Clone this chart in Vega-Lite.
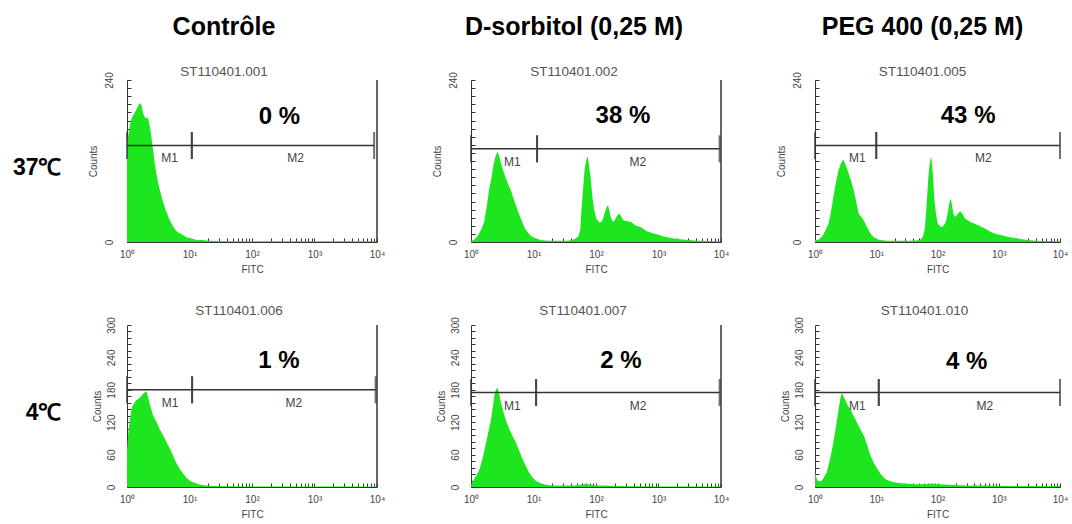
{
"$schema":"https://vega.github.io/schema/vega-lite/v6.json",
"padding":{"left":0,"top":15,"right":0,"bottom":0},
"spacing":30,
"data":{"values":[
{"k":"h","p":"a","x":1,"y":150},{"k":"h","p":"a","x":1.05,"y":158},{"k":"h","p":"a","x":1.1,"y":170},{"k":"h","p":"a","x":1.15,"y":178},{"k":"h","p":"a","x":1.2,"y":185},{"k":"h","p":"a","x":1.3,"y":190},{"k":"h","p":"a","x":1.4,"y":196},{"k":"h","p":"a","x":1.5,"y":201},{"k":"h","p":"a","x":1.6,"y":206},{"k":"h","p":"a","x":1.7,"y":203},{"k":"h","p":"a","x":1.8,"y":192},{"k":"h","p":"a","x":1.9,"y":186},{"k":"h","p":"a","x":2.0,"y":183},{"k":"h","p":"a","x":2.1,"y":185},{"k":"h","p":"a","x":2.2,"y":181},{"k":"h","p":"a","x":2.35,"y":168},{"k":"h","p":"a","x":2.5,"y":150},{"k":"h","p":"a","x":2.65,"y":132},{"k":"h","p":"a","x":2.8,"y":115},{"k":"h","p":"a","x":3.0,"y":98},{"k":"h","p":"a","x":3.2,"y":85},{"k":"h","p":"a","x":3.45,"y":73},{"k":"h","p":"a","x":3.7,"y":62},{"k":"h","p":"a","x":4.0,"y":52},{"k":"h","p":"a","x":4.3,"y":44},{"k":"h","p":"a","x":4.65,"y":36},{"k":"h","p":"a","x":5.0,"y":30},{"k":"h","p":"a","x":5.4,"y":24},{"k":"h","p":"a","x":5.9,"y":19},{"k":"h","p":"a","x":6.4,"y":15},{"k":"h","p":"a","x":7.0,"y":13},{"k":"h","p":"a","x":7.9,"y":10},{"k":"h","p":"a","x":9.0,"y":7},{"k":"h","p":"a","x":10,"y":6},{"k":"h","p":"a","x":11,"y":5},{"k":"h","p":"a","x":13,"y":3},{"k":"h","p":"a","x":16,"y":3},{"k":"h","p":"a","x":20,"y":2},{"k":"h","p":"a","x":30,"y":1.5},{"k":"h","p":"a","x":50,"y":1},{"k":"h","p":"a","x":100,"y":1},{"k":"h","p":"a","x":300,"y":1},{"k":"h","p":"a","x":1000,"y":1},{"k":"h","p":"a","x":3000,"y":1},{"k":"h","p":"a","x":10000,"y":1},

{"k":"h","p":"b","x":1,"y":2},{"k":"h","p":"b","x":1.1,"y":3},{"k":"h","p":"b","x":1.17,"y":5},{"k":"h","p":"b","x":1.3,"y":10},{"k":"h","p":"b","x":1.45,"y":18},{"k":"h","p":"b","x":1.63,"y":30},{"k":"h","p":"b","x":1.8,"y":55},{"k":"h","p":"b","x":1.95,"y":78},{"k":"h","p":"b","x":2.09,"y":91},{"k":"h","p":"b","x":2.25,"y":110},{"k":"h","p":"b","x":2.45,"y":126},{"k":"h","p":"b","x":2.6,"y":132},{"k":"h","p":"b","x":2.67,"y":134},{"k":"h","p":"b","x":2.8,"y":128},{"k":"h","p":"b","x":3.0,"y":118},{"k":"h","p":"b","x":3.2,"y":108},{"k":"h","p":"b","x":3.41,"y":101},{"k":"h","p":"b","x":3.7,"y":92},{"k":"h","p":"b","x":4.0,"y":84},{"k":"h","p":"b","x":4.37,"y":76},{"k":"h","p":"b","x":4.9,"y":62},{"k":"h","p":"b","x":5.58,"y":47},{"k":"h","p":"b","x":6.3,"y":34},{"k":"h","p":"b","x":7.13,"y":22},{"k":"h","p":"b","x":8.0,"y":15},{"k":"h","p":"b","x":9.1,"y":9},{"k":"h","p":"b","x":10.5,"y":6},{"k":"h","p":"b","x":13,"y":3},{"k":"h","p":"b","x":17,"y":2},{"k":"h","p":"b","x":25,"y":2},{"k":"h","p":"b","x":35,"y":2},{"k":"h","p":"b","x":45,"y":4},{"k":"h","p":"b","x":52,"y":8},{"k":"h","p":"b","x":56,"y":18},{"k":"h","p":"b","x":58,"y":42},{"k":"h","p":"b","x":61,"y":70},{"k":"h","p":"b","x":66,"y":109},{"k":"h","p":"b","x":70,"y":122},{"k":"h","p":"b","x":73.6,"y":127},{"k":"h","p":"b","x":77,"y":115},{"k":"h","p":"b","x":83,"y":91},{"k":"h","p":"b","x":88,"y":65},{"k":"h","p":"b","x":94,"y":47},{"k":"h","p":"b","x":100,"y":36},{"k":"h","p":"b","x":106,"y":32},{"k":"h","p":"b","x":115,"y":29},{"k":"h","p":"b","x":122,"y":30},{"k":"h","p":"b","x":128,"y":33},{"k":"h","p":"b","x":135,"y":40},{"k":"h","p":"b","x":143,"y":48},{"k":"h","p":"b","x":150,"y":53},{"k":"h","p":"b","x":156,"y":54},{"k":"h","p":"b","x":163,"y":47},{"k":"h","p":"b","x":172,"y":37},{"k":"h","p":"b","x":182,"y":31},{"k":"h","p":"b","x":192,"y":30},{"k":"h","p":"b","x":202,"y":33},{"k":"h","p":"b","x":215,"y":38},{"k":"h","p":"b","x":228,"y":41},{"k":"h","p":"b","x":236,"y":42},{"k":"h","p":"b","x":250,"y":39},{"k":"h","p":"b","x":265,"y":34},{"k":"h","p":"b","x":285,"y":31},{"k":"h","p":"b","x":310,"y":32},{"k":"h","p":"b","x":335,"y":30},{"k":"h","p":"b","x":363,"y":30},{"k":"h","p":"b","x":420,"y":25},{"k":"h","p":"b","x":525,"y":22},{"k":"h","p":"b","x":650,"y":16},{"k":"h","p":"b","x":800,"y":13},{"k":"h","p":"b","x":970,"y":11},{"k":"h","p":"b","x":1200,"y":8},{"k":"h","p":"b","x":1585,"y":6},{"k":"h","p":"b","x":2200,"y":4},{"k":"h","p":"b","x":3000,"y":3},{"k":"h","p":"b","x":4270,"y":2},{"k":"h","p":"b","x":6000,"y":1.5},{"k":"h","p":"b","x":10000,"y":1},

{"k":"h","p":"c","x":1,"y":3},{"k":"h","p":"c","x":1.1,"y":3},{"k":"h","p":"c","x":1.2,"y":5},{"k":"h","p":"c","x":1.35,"y":10},{"k":"h","p":"c","x":1.5,"y":18},{"k":"h","p":"c","x":1.66,"y":27},{"k":"h","p":"c","x":1.8,"y":42},{"k":"h","p":"c","x":2.0,"y":67},{"k":"h","p":"c","x":2.2,"y":88},{"k":"h","p":"c","x":2.43,"y":107},{"k":"h","p":"c","x":2.7,"y":118},{"k":"h","p":"c","x":2.93,"y":122},{"k":"h","p":"c","x":3.2,"y":113},{"k":"h","p":"c","x":3.55,"y":102},{"k":"h","p":"c","x":3.9,"y":90},{"k":"h","p":"c","x":4.28,"y":77},{"k":"h","p":"c","x":4.7,"y":60},{"k":"h","p":"c","x":5.18,"y":42},{"k":"h","p":"c","x":5.7,"y":37},{"k":"h","p":"c","x":6.26,"y":32},{"k":"h","p":"c","x":6.9,"y":24},{"k":"h","p":"c","x":7.57,"y":17},{"k":"h","p":"c","x":8.3,"y":11},{"k":"h","p":"c","x":9.1,"y":7},{"k":"h","p":"c","x":10.5,"y":4},{"k":"h","p":"c","x":11.7,"y":3},{"k":"h","p":"c","x":15,"y":2},{"k":"h","p":"c","x":25,"y":2},{"k":"h","p":"c","x":40,"y":2},{"k":"h","p":"c","x":52,"y":3},{"k":"h","p":"c","x":58,"y":8},{"k":"h","p":"c","x":62,"y":20},{"k":"h","p":"c","x":65,"y":42},{"k":"h","p":"c","x":68,"y":70},{"k":"h","p":"c","x":71,"y":97},{"k":"h","p":"c","x":75,"y":118},{"k":"h","p":"c","x":79,"y":127},{"k":"h","p":"c","x":84,"y":100},{"k":"h","p":"c","x":89,"y":62},{"k":"h","p":"c","x":95,"y":40},{"k":"h","p":"c","x":101,"y":27},{"k":"h","p":"c","x":108,"y":24},{"k":"h","p":"c","x":115,"y":22},{"k":"h","p":"c","x":125,"y":24},{"k":"h","p":"c","x":132,"y":27},{"k":"h","p":"c","x":139,"y":32},{"k":"h","p":"c","x":150,"y":48},{"k":"h","p":"c","x":158,"y":60},{"k":"h","p":"c","x":164,"y":65},{"k":"h","p":"c","x":172,"y":55},{"k":"h","p":"c","x":181,"y":43},{"k":"h","p":"c","x":191,"y":37},{"k":"h","p":"c","x":202,"y":39},{"k":"h","p":"c","x":215,"y":42},{"k":"h","p":"c","x":228,"y":45},{"k":"h","p":"c","x":240,"y":45},{"k":"h","p":"c","x":258,"y":41},{"k":"h","p":"c","x":280,"y":35},{"k":"h","p":"c","x":316,"y":32},{"k":"h","p":"c","x":360,"y":29},{"k":"h","p":"c","x":407,"y":27},{"k":"h","p":"c","x":480,"y":24},{"k":"h","p":"c","x":596,"y":20},{"k":"h","p":"c","x":750,"y":15},{"k":"h","p":"c","x":900,"y":12},{"k":"h","p":"c","x":1120,"y":10},{"k":"h","p":"c","x":1500,"y":7},{"k":"h","p":"c","x":2100,"y":5},{"k":"h","p":"c","x":3000,"y":3},{"k":"h","p":"c","x":4000,"y":2},{"k":"h","p":"c","x":6000,"y":1.5},{"k":"h","p":"c","x":10000,"y":1},

{"k":"h","p":"d","x":1,"y":69},{"k":"h","p":"d","x":1.05,"y":100},{"k":"h","p":"d","x":1.13,"y":131},{"k":"h","p":"d","x":1.2,"y":148},{"k":"h","p":"d","x":1.36,"y":159},{"k":"h","p":"d","x":1.5,"y":163},{"k":"h","p":"d","x":1.63,"y":166},{"k":"h","p":"d","x":1.8,"y":172},{"k":"h","p":"d","x":1.95,"y":176},{"k":"h","p":"d","x":2.04,"y":178},{"k":"h","p":"d","x":2.15,"y":168},{"k":"h","p":"d","x":2.36,"y":150},{"k":"h","p":"d","x":2.6,"y":133},{"k":"h","p":"d","x":3.0,"y":119},{"k":"h","p":"d","x":3.4,"y":105},{"k":"h","p":"d","x":3.86,"y":94},{"k":"h","p":"d","x":4.4,"y":80},{"k":"h","p":"d","x":4.94,"y":69},{"k":"h","p":"d","x":5.6,"y":55},{"k":"h","p":"d","x":6.3,"y":42},{"k":"h","p":"d","x":7.2,"y":31},{"k":"h","p":"d","x":8.1,"y":23},{"k":"h","p":"d","x":9.1,"y":16},{"k":"h","p":"d","x":10.3,"y":11},{"k":"h","p":"d","x":12.5,"y":7},{"k":"h","p":"d","x":14.9,"y":4},{"k":"h","p":"d","x":19,"y":3},{"k":"h","p":"d","x":24.5,"y":2},{"k":"h","p":"d","x":40,"y":1.5},{"k":"h","p":"d","x":80,"y":1},{"k":"h","p":"d","x":300,"y":1},{"k":"h","p":"d","x":1000,"y":1},{"k":"h","p":"d","x":3000,"y":1},{"k":"h","p":"d","x":10000,"y":1},

{"k":"h","p":"e","x":1,"y":3},{"k":"h","p":"e","x":1.06,"y":10},{"k":"h","p":"e","x":1.2,"y":20},{"k":"h","p":"e","x":1.36,"y":32},{"k":"h","p":"e","x":1.55,"y":55},{"k":"h","p":"e","x":1.74,"y":82},{"k":"h","p":"e","x":1.92,"y":105},{"k":"h","p":"e","x":2.09,"y":125},{"k":"h","p":"e","x":2.25,"y":150},{"k":"h","p":"e","x":2.36,"y":169},{"k":"h","p":"e","x":2.5,"y":180},{"k":"h","p":"e","x":2.67,"y":184},{"k":"h","p":"e","x":2.85,"y":170},{"k":"h","p":"e","x":3.0,"y":158},{"k":"h","p":"e","x":3.21,"y":144},{"k":"h","p":"e","x":3.6,"y":124},{"k":"h","p":"e","x":4.1,"y":107},{"k":"h","p":"e","x":4.6,"y":95},{"k":"h","p":"e","x":5.25,"y":82},{"k":"h","p":"e","x":5.9,"y":67},{"k":"h","p":"e","x":6.7,"y":51},{"k":"h","p":"e","x":7.6,"y":38},{"k":"h","p":"e","x":8.6,"y":26},{"k":"h","p":"e","x":9.7,"y":17},{"k":"h","p":"e","x":11,"y":11},{"k":"h","p":"e","x":13,"y":7},{"k":"h","p":"e","x":15.8,"y":4},{"k":"h","p":"e","x":20,"y":3},{"k":"h","p":"e","x":30,"y":3},{"k":"h","p":"e","x":45,"y":3},{"k":"h","p":"e","x":60,"y":4},{"k":"h","p":"e","x":69,"y":6},{"k":"h","p":"e","x":80,"y":4},{"k":"h","p":"e","x":100,"y":3},{"k":"h","p":"e","x":145,"y":3},{"k":"h","p":"e","x":200,"y":2},{"k":"h","p":"e","x":400,"y":1.5},{"k":"h","p":"e","x":1000,"y":1},{"k":"h","p":"e","x":10000,"y":1},

{"k":"h","p":"f","x":1,"y":28},{"k":"h","p":"f","x":1.05,"y":18},{"k":"h","p":"f","x":1.1,"y":12},{"k":"h","p":"f","x":1.2,"y":9},{"k":"h","p":"f","x":1.35,"y":15},{"k":"h","p":"f","x":1.56,"y":28},{"k":"h","p":"f","x":1.75,"y":50},{"k":"h","p":"f","x":2.0,"y":83},{"k":"h","p":"f","x":2.2,"y":112},{"k":"h","p":"f","x":2.43,"y":144},{"k":"h","p":"f","x":2.6,"y":165},{"k":"h","p":"f","x":2.75,"y":174},{"k":"h","p":"f","x":2.9,"y":168},{"k":"h","p":"f","x":3.1,"y":162},{"k":"h","p":"f","x":3.4,"y":152},{"k":"h","p":"f","x":3.77,"y":144},{"k":"h","p":"f","x":4.3,"y":131},{"k":"h","p":"f","x":4.86,"y":119},{"k":"h","p":"f","x":5.5,"y":107},{"k":"h","p":"f","x":6.3,"y":95},{"k":"h","p":"f","x":7.1,"y":78},{"k":"h","p":"f","x":8.06,"y":58},{"k":"h","p":"f","x":9.1,"y":45},{"k":"h","p":"f","x":10.4,"y":34},{"k":"h","p":"f","x":12,"y":23},{"k":"h","p":"f","x":14,"y":15},{"k":"h","p":"f","x":16.5,"y":11},{"k":"h","p":"f","x":19.5,"y":9},{"k":"h","p":"f","x":25,"y":7},{"k":"h","p":"f","x":32,"y":6},{"k":"h","p":"f","x":45,"y":5},{"k":"h","p":"f","x":60,"y":5},{"k":"h","p":"f","x":79,"y":6},{"k":"h","p":"f","x":100,"y":5},{"k":"h","p":"f","x":166,"y":4},{"k":"h","p":"f","x":300,"y":3},{"k":"h","p":"f","x":590,"y":3},{"k":"h","p":"f","x":1500,"y":2},{"k":"h","p":"f","x":4000,"y":2},{"k":"h","p":"f","x":10000,"y":2},

{"k":"g","p":"a","g":"M1","x":1,"x2":10.9,"y":143,"m":4.8},{"k":"g","p":"a","g":"M2","x":10.9,"x2":9000,"y":143,"m":500},
{"k":"g","p":"b","g":"M1","x":1,"x2":11.4,"y":138,"m":4.6},{"k":"g","p":"b","g":"M2","x":11.4,"x2":9500,"y":138,"m":465},
{"k":"g","p":"c","g":"M1","x":1,"x2":10,"y":143,"m":4.9},{"k":"g","p":"c","g":"M2","x":10,"x2":10000,"y":143,"m":560},
{"k":"g","p":"d","g":"M1","x":1,"x2":11,"y":180,"m":4.9},{"k":"g","p":"d","g":"M2","x":11,"x2":9500,"y":180,"m":465},
{"k":"g","p":"e","g":"M1","x":1,"x2":11,"y":175,"m":4.6},{"k":"g","p":"e","g":"M2","x":11,"x2":9500,"y":175,"m":470},
{"k":"g","p":"f","g":"M1","x":1,"x2":11,"y":175,"m":4.9},{"k":"g","p":"f","g":"M2","x":11,"x2":10000,"y":175,"m":590},

{"k":"n","p":"a","t":"0 %","x":275,"y":185},
{"k":"n","p":"b","t":"38 %","x":270,"y":186},
{"k":"n","p":"c","t":"43 %","x":316,"y":187},
{"k":"n","p":"d","t":"1 %","x":270,"y":234},
{"k":"n","p":"e","t":"2 %","x":251,"y":234},
{"k":"n","p":"f","t":"4 %","x":300,"y":232}
]},
"vconcat":[
{"bounds":"flush","spacing":94,"hconcat":[
 {"width":33,"height":162,"data":{"values":[{"t":"37℃"}]},"mark":{"type":"text","fontSize":23,"fontWeight":"bold","align":"right","dx":45,"dy":7,"color":"#000"},"encoding":{"text":{"field":"t"}}},
  {"width":250,"height":162,"resolve":{"axis":{"x":"independent","y":"independent"}},
   "title":{"text":"Contrôle","subtitle":"ST110401.001","fontSize":25,"fontWeight":"bold","color":"#000","subtitleFontSize":13.5,"subtitleColor":"#555","subtitlePadding":25,"offset":-7,"frame":"group","anchor":"middle","dx":-28},
   "layer":[
    {"transform":[{"filter":"datum.k=='h'&&datum.p=='a'"}],"mark":{"type":"area","color":"#1ee61e","interpolate":"linear"},
     "encoding":{"x":{"field":"x","type":"quantitative","scale":{"type":"log","domain":[1,10000]},"title":"FITC",
       "axis":{"values":[1,2,3,4,5,6,7,8,9,10,20,30,40,50,60,70,80,90,100,200,300,400,500,600,700,800,900,1000,2000,3000,4000,5000,6000,7000,8000,9000,10000],"labelExpr":"datum.value==1?'10⁰':datum.value==10?'10¹':datum.value==100?'10²':datum.value==1000?'10³':datum.value==10000?'10⁴':''","labelPadding":11,"titlePadding":5}},
      "y":{"field":"y","type":"quantitative","scale":{"domain":[0,240]},"title":"Counts",
       "axis":{"values":[0,12,24,36,48,60,72,84,96,108,120,132,144,156,168,180,192,204,216,228,240],"labelExpr":"datum.value==0||datum.value==240?datum.label:''","labelAngle":270,"labelPadding":17,"titlePadding":6}}}},
    {"transform":[{"filter":"datum.k=='g'&&datum.p=='a'"}],"mark":{"type":"rule","color":"#333","strokeWidth":1.5},
     "encoding":{"x":{"field":"x","type":"quantitative","axis":null},"x2":{"field":"x2"},"y":{"field":"y","type":"quantitative","axis":null}}},
    {"transform":[{"filter":"datum.k=='g'&&datum.p=='a'"},{"fold":["x","x2"],"as":["key","cx"]}],"mark":{"type":"tick","orient":"vertical","color":"#333","size":27,"thickness":2},
     "encoding":{"x":{"field":"cx","type":"quantitative","axis":null},"y":{"field":"y","type":"quantitative","axis":null}}},
    {"transform":[{"filter":"datum.k=='g'&&datum.p=='a'"}],"mark":{"type":"text","fontSize":12,"color":"#444","dy":13},
     "encoding":{"x":{"field":"m","type":"quantitative","axis":null},"y":{"field":"y","type":"quantitative","axis":null},"text":{"field":"g"}}},
    {"transform":[{"filter":"datum.k=='n'&&datum.p=='a'"}],"mark":{"type":"text","fontSize":24,"fontWeight":"bold","color":"#000"},
     "encoding":{"x":{"field":"x","type":"quantitative","axis":null},"y":{"field":"y","type":"quantitative","axis":null},"text":{"field":"t"}}},
    {"data":{"values":[{}]},"mark":{"type":"rule","color":"#333","strokeWidth":1.5},"encoding":{"x":{"datum":10000,"axis":null}}}
   ]},
  {"width":250,"height":162,"resolve":{"axis":{"x":"independent","y":"independent"}},
   "title":{"text":"D-sorbitol (0,25 M)","subtitle":"ST110401.002","fontSize":25,"fontWeight":"bold","color":"#000","subtitleFontSize":13.5,"subtitleColor":"#555","subtitlePadding":25,"offset":-7,"frame":"group","anchor":"middle","dx":-22},
   "layer":[
    {"transform":[{"filter":"datum.k=='h'&&datum.p=='b'"}],"mark":{"type":"area","color":"#1ee61e","interpolate":"linear"},
     "encoding":{"x":{"field":"x","type":"quantitative","scale":{"type":"log","domain":[1,10000]},"title":"FITC",
       "axis":{"values":[1,2,3,4,5,6,7,8,9,10,20,30,40,50,60,70,80,90,100,200,300,400,500,600,700,800,900,1000,2000,3000,4000,5000,6000,7000,8000,9000,10000],"labelExpr":"datum.value==1?'10⁰':datum.value==10?'10¹':datum.value==100?'10²':datum.value==1000?'10³':datum.value==10000?'10⁴':''","labelPadding":11,"titlePadding":5}},
      "y":{"field":"y","type":"quantitative","scale":{"domain":[0,240]},"title":"Counts",
       "axis":{"values":[0,12,24,36,48,60,72,84,96,108,120,132,144,156,168,180,192,204,216,228,240],"labelExpr":"datum.value==0||datum.value==240?datum.label:''","labelAngle":270,"labelPadding":17,"titlePadding":6}}}},
    {"transform":[{"filter":"datum.k=='g'&&datum.p=='b'"}],"mark":{"type":"rule","color":"#333","strokeWidth":1.5},
     "encoding":{"x":{"field":"x","type":"quantitative","axis":null},"x2":{"field":"x2"},"y":{"field":"y","type":"quantitative","axis":null}}},
    {"transform":[{"filter":"datum.k=='g'&&datum.p=='b'"},{"fold":["x","x2"],"as":["key","cx"]}],"mark":{"type":"tick","orient":"vertical","color":"#333","size":27,"thickness":2},
     "encoding":{"x":{"field":"cx","type":"quantitative","axis":null},"y":{"field":"y","type":"quantitative","axis":null}}},
    {"transform":[{"filter":"datum.k=='g'&&datum.p=='b'"}],"mark":{"type":"text","fontSize":12,"color":"#444","dy":13},
     "encoding":{"x":{"field":"m","type":"quantitative","axis":null},"y":{"field":"y","type":"quantitative","axis":null},"text":{"field":"g"}}},
    {"transform":[{"filter":"datum.k=='n'&&datum.p=='b'"}],"mark":{"type":"text","fontSize":24,"fontWeight":"bold","color":"#000"},
     "encoding":{"x":{"field":"x","type":"quantitative","axis":null},"y":{"field":"y","type":"quantitative","axis":null},"text":{"field":"t"}}},
    {"data":{"values":[{}]},"mark":{"type":"rule","color":"#333","strokeWidth":1.5},"encoding":{"x":{"datum":10000,"axis":null}}}
   ]},
  {"width":245,"height":162,"resolve":{"axis":{"x":"independent","y":"independent"}},
   "title":{"text":"PEG 400 (0,25 M)","subtitle":"ST110401.005","fontSize":25,"fontWeight":"bold","color":"#000","subtitleFontSize":13.5,"subtitleColor":"#555","subtitlePadding":25,"offset":-7,"frame":"group","anchor":"middle","dx":-15},
   "layer":[
    {"transform":[{"filter":"datum.k=='h'&&datum.p=='c'"}],"mark":{"type":"area","color":"#1ee61e","interpolate":"linear"},
     "encoding":{"x":{"field":"x","type":"quantitative","scale":{"type":"log","domain":[1,10000]},"title":"FITC",
       "axis":{"values":[1,2,3,4,5,6,7,8,9,10,20,30,40,50,60,70,80,90,100,200,300,400,500,600,700,800,900,1000,2000,3000,4000,5000,6000,7000,8000,9000,10000],"labelExpr":"datum.value==1?'10⁰':datum.value==10?'10¹':datum.value==100?'10²':datum.value==1000?'10³':datum.value==10000?'10⁴':''","labelPadding":11,"titlePadding":5}},
      "y":{"field":"y","type":"quantitative","scale":{"domain":[0,240]},"title":"Counts",
       "axis":{"values":[0,12,24,36,48,60,72,84,96,108,120,132,144,156,168,180,192,204,216,228,240],"labelExpr":"datum.value==0||datum.value==240?datum.label:''","labelAngle":270,"labelPadding":17,"titlePadding":6}}}},
    {"transform":[{"filter":"datum.k=='g'&&datum.p=='c'"}],"mark":{"type":"rule","color":"#333","strokeWidth":1.5},
     "encoding":{"x":{"field":"x","type":"quantitative","axis":null},"x2":{"field":"x2"},"y":{"field":"y","type":"quantitative","axis":null}}},
    {"transform":[{"filter":"datum.k=='g'&&datum.p=='c'"},{"fold":["x","x2"],"as":["key","cx"]}],"mark":{"type":"tick","orient":"vertical","color":"#333","size":27,"thickness":2},
     "encoding":{"x":{"field":"cx","type":"quantitative","axis":null},"y":{"field":"y","type":"quantitative","axis":null}}},
    {"transform":[{"filter":"datum.k=='g'&&datum.p=='c'"}],"mark":{"type":"text","fontSize":12,"color":"#444","dy":13},
     "encoding":{"x":{"field":"m","type":"quantitative","axis":null},"y":{"field":"y","type":"quantitative","axis":null},"text":{"field":"g"}}},
    {"transform":[{"filter":"datum.k=='n'&&datum.p=='c'"}],"mark":{"type":"text","fontSize":24,"fontWeight":"bold","color":"#000"},
     "encoding":{"x":{"field":"x","type":"quantitative","axis":null},"y":{"field":"y","type":"quantitative","axis":null},"text":{"field":"t"}}}
   ]}
]},
{"bounds":"flush","spacing":94,"hconcat":[
 {"width":33,"height":162,"data":{"values":[{"t":"4℃"}]},"mark":{"type":"text","fontSize":23,"fontWeight":"bold","align":"right","dx":45,"dy":7,"color":"#000"},"encoding":{"text":{"field":"t"}}},
  {"width":250,"height":162,"resolve":{"axis":{"x":"independent","y":"independent"}},
   "title":{"text":"ST110401.006","fontSize":13.5,"fontWeight":"normal","color":"#555","offset":-1,"frame":"group","anchor":"middle","dx":-13},
   "layer":[
    {"transform":[{"filter":"datum.k=='h'&&datum.p=='d'"}],"mark":{"type":"area","color":"#1ee61e","interpolate":"linear"},
     "encoding":{"x":{"field":"x","type":"quantitative","scale":{"type":"log","domain":[1,10000]},"title":"FITC",
       "axis":{"values":[1,2,3,4,5,6,7,8,9,10,20,30,40,50,60,70,80,90,100,200,300,400,500,600,700,800,900,1000,2000,3000,4000,5000,6000,7000,8000,9000,10000],"labelExpr":"datum.value==1?'10⁰':datum.value==10?'10¹':datum.value==100?'10²':datum.value==1000?'10³':datum.value==10000?'10⁴':''","labelPadding":11,"titlePadding":5}},
      "y":{"field":"y","type":"quantitative","scale":{"domain":[0,300]},"title":"Counts",
       "axis":{"values":[0,12,24,36,48,60,72,84,96,108,120,132,144,156,168,180,192,204,216,228,240,252,264,276,288,300],"labelExpr":"datum.value%60==0?datum.label:''","labelAngle":270,"labelPadding":15,"titlePadding":4}}}},
    {"transform":[{"filter":"datum.k=='g'&&datum.p=='d'"}],"mark":{"type":"rule","color":"#333","strokeWidth":1.5},
     "encoding":{"x":{"field":"x","type":"quantitative","axis":null},"x2":{"field":"x2"},"y":{"field":"y","type":"quantitative","axis":null}}},
    {"transform":[{"filter":"datum.k=='g'&&datum.p=='d'"},{"fold":["x","x2"],"as":["key","cx"]}],"mark":{"type":"tick","orient":"vertical","color":"#333","size":27,"thickness":2},
     "encoding":{"x":{"field":"cx","type":"quantitative","axis":null},"y":{"field":"y","type":"quantitative","axis":null}}},
    {"transform":[{"filter":"datum.k=='g'&&datum.p=='d'"}],"mark":{"type":"text","fontSize":12,"color":"#444","dy":13},
     "encoding":{"x":{"field":"m","type":"quantitative","axis":null},"y":{"field":"y","type":"quantitative","axis":null},"text":{"field":"g"}}},
    {"transform":[{"filter":"datum.k=='n'&&datum.p=='d'"}],"mark":{"type":"text","fontSize":24,"fontWeight":"bold","color":"#000"},
     "encoding":{"x":{"field":"x","type":"quantitative","axis":null},"y":{"field":"y","type":"quantitative","axis":null},"text":{"field":"t"}}},
    {"data":{"values":[{}]},"mark":{"type":"rule","color":"#333","strokeWidth":1.5},"encoding":{"x":{"datum":10000,"axis":null}}}
   ]},
  {"width":250,"height":162,"resolve":{"axis":{"x":"independent","y":"independent"}},
   "title":{"text":"ST110401.007","fontSize":13.5,"fontWeight":"normal","color":"#555","offset":-1,"frame":"group","anchor":"middle","dx":-13},
   "layer":[
    {"transform":[{"filter":"datum.k=='h'&&datum.p=='e'"}],"mark":{"type":"area","color":"#1ee61e","interpolate":"linear"},
     "encoding":{"x":{"field":"x","type":"quantitative","scale":{"type":"log","domain":[1,10000]},"title":"FITC",
       "axis":{"values":[1,2,3,4,5,6,7,8,9,10,20,30,40,50,60,70,80,90,100,200,300,400,500,600,700,800,900,1000,2000,3000,4000,5000,6000,7000,8000,9000,10000],"labelExpr":"datum.value==1?'10⁰':datum.value==10?'10¹':datum.value==100?'10²':datum.value==1000?'10³':datum.value==10000?'10⁴':''","labelPadding":11,"titlePadding":5}},
      "y":{"field":"y","type":"quantitative","scale":{"domain":[0,300]},"title":"Counts",
       "axis":{"values":[0,12,24,36,48,60,72,84,96,108,120,132,144,156,168,180,192,204,216,228,240,252,264,276,288,300],"labelExpr":"datum.value%60==0?datum.label:''","labelAngle":270,"labelPadding":15,"titlePadding":4}}}},
    {"transform":[{"filter":"datum.k=='g'&&datum.p=='e'"}],"mark":{"type":"rule","color":"#333","strokeWidth":1.5},
     "encoding":{"x":{"field":"x","type":"quantitative","axis":null},"x2":{"field":"x2"},"y":{"field":"y","type":"quantitative","axis":null}}},
    {"transform":[{"filter":"datum.k=='g'&&datum.p=='e'"},{"fold":["x","x2"],"as":["key","cx"]}],"mark":{"type":"tick","orient":"vertical","color":"#333","size":27,"thickness":2},
     "encoding":{"x":{"field":"cx","type":"quantitative","axis":null},"y":{"field":"y","type":"quantitative","axis":null}}},
    {"transform":[{"filter":"datum.k=='g'&&datum.p=='e'"}],"mark":{"type":"text","fontSize":12,"color":"#444","dy":13},
     "encoding":{"x":{"field":"m","type":"quantitative","axis":null},"y":{"field":"y","type":"quantitative","axis":null},"text":{"field":"g"}}},
    {"transform":[{"filter":"datum.k=='n'&&datum.p=='e'"}],"mark":{"type":"text","fontSize":24,"fontWeight":"bold","color":"#000"},
     "encoding":{"x":{"field":"x","type":"quantitative","axis":null},"y":{"field":"y","type":"quantitative","axis":null},"text":{"field":"t"}}},
    {"data":{"values":[{}]},"mark":{"type":"rule","color":"#333","strokeWidth":1.5},"encoding":{"x":{"datum":10000,"axis":null}}}
   ]},
  {"width":245,"height":162,"resolve":{"axis":{"x":"independent","y":"independent"}},
   "title":{"text":"ST110401.010","fontSize":13.5,"fontWeight":"normal","color":"#555","offset":-1,"frame":"group","anchor":"middle","dx":-13},
   "layer":[
    {"transform":[{"filter":"datum.k=='h'&&datum.p=='f'"}],"mark":{"type":"area","color":"#1ee61e","interpolate":"linear"},
     "encoding":{"x":{"field":"x","type":"quantitative","scale":{"type":"log","domain":[1,10000]},"title":"FITC",
       "axis":{"values":[1,2,3,4,5,6,7,8,9,10,20,30,40,50,60,70,80,90,100,200,300,400,500,600,700,800,900,1000,2000,3000,4000,5000,6000,7000,8000,9000,10000],"labelExpr":"datum.value==1?'10⁰':datum.value==10?'10¹':datum.value==100?'10²':datum.value==1000?'10³':datum.value==10000?'10⁴':''","labelPadding":11,"titlePadding":5}},
      "y":{"field":"y","type":"quantitative","scale":{"domain":[0,300]},"title":"Counts",
       "axis":{"values":[0,12,24,36,48,60,72,84,96,108,120,132,144,156,168,180,192,204,216,228,240,252,264,276,288,300],"labelExpr":"datum.value%60==0?datum.label:''","labelAngle":270,"labelPadding":15,"titlePadding":4}}}},
    {"transform":[{"filter":"datum.k=='g'&&datum.p=='f'"}],"mark":{"type":"rule","color":"#333","strokeWidth":1.5},
     "encoding":{"x":{"field":"x","type":"quantitative","axis":null},"x2":{"field":"x2"},"y":{"field":"y","type":"quantitative","axis":null}}},
    {"transform":[{"filter":"datum.k=='g'&&datum.p=='f'"},{"fold":["x","x2"],"as":["key","cx"]}],"mark":{"type":"tick","orient":"vertical","color":"#333","size":27,"thickness":2},
     "encoding":{"x":{"field":"cx","type":"quantitative","axis":null},"y":{"field":"y","type":"quantitative","axis":null}}},
    {"transform":[{"filter":"datum.k=='g'&&datum.p=='f'"}],"mark":{"type":"text","fontSize":12,"color":"#444","dy":13},
     "encoding":{"x":{"field":"m","type":"quantitative","axis":null},"y":{"field":"y","type":"quantitative","axis":null},"text":{"field":"g"}}},
    {"transform":[{"filter":"datum.k=='n'&&datum.p=='f'"}],"mark":{"type":"text","fontSize":24,"fontWeight":"bold","color":"#000"},
     "encoding":{"x":{"field":"x","type":"quantitative","axis":null},"y":{"field":"y","type":"quantitative","axis":null},"text":{"field":"t"}}}
   ]}
]}
],
"config":{
 "font":"Liberation Sans",
 "view":{"stroke":null},
 "axis":{"grid":false,"zindex":1,"domainColor":"#333","tickColor":"#333","labelColor":"#444","titleColor":"#444","titleFontWeight":"normal","titleFontSize":10,"labelFontSize":10,"tickSize":-4,"labelPadding":6,"titlePadding":4,"labelOverlap":false,"labelFlush":false}
}
}
